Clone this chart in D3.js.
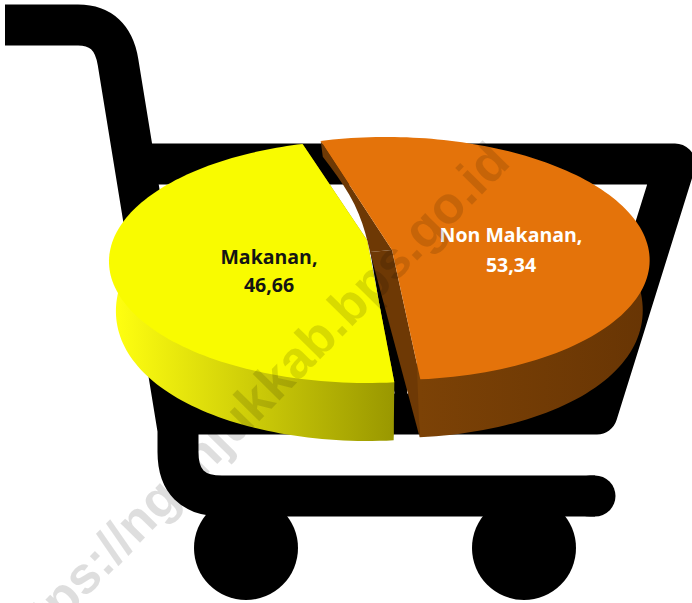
<!DOCTYPE html>
<html>
<head>
<meta charset="utf-8">
<script src="https://cdn.jsdelivr.net/npm/d3@7/dist/d3.min.js"></script>
<style>
html,body{margin:0;padding:0;background:#fff;overflow:hidden}
svg{display:block}
</style>
</head>
<body>
<svg id="c" width="692" height="603"></svg>
<script>
const categories = ["Makanan", "Non Makanan"];
const values = [46.66, 53.34];
const valueLabels = ["46,66", "53,34"];
const topColors = ["#f9fb00", "#e4730a"];
const wallStart = ["#ffff10", "#7c4206"];
const wallEnd = ["#999700", "#683504"];
const labelColors = ["#141414", "#ffffff"];
const watermarkText = "https://nganjukkab.bps.go.id";

const svg = d3.select("#c");
const W = 692, H = 603;
svg.append("rect").attr("width", W).attr("height", H).attr("fill", "#fff");

/* ---------- shopping cart ---------- */
const cart = svg.append("g").attr("fill", "none").attr("stroke", "#000").attr("stroke-width", 41);
cart.append("path").attr("stroke-linejoin", "round")
  .attr("d", "M5,25 L78,25 Q112,25 118,62 L178,430 L178,452 Q178,496 222,496 L595,496");
cart.append("path").attr("stroke-linejoin", "round")
  .attr("d", "M130,164 L675,164 L597,414 L165,414");
cart.append("line").attr("x1", 590).attr("x2", 595).attr("y1", 496).attr("y2", 496).attr("stroke-linecap", "round");
svg.selectAll("circle.wheel").data([246, 524]).join("circle")
  .attr("class", "wheel").attr("cx", d => d).attr("cy", 548).attr("r", 52).attr("fill", "#000");
/* dark wedge seen through the gap between the slices */
svg.append("path").attr("fill", "#000").attr("d", "M370,250 L395,396 L407,396 L407,373 L390,290Z");

/* ---------- 3D pie ---------- */
const rx = 256, ry = 118.7, persp = 0.152;
const apex = [[368, 243], [390, 240]];
const hubOffset = [[-1, -3], [2, 10]];
const shear = [0, -4];
const startAngle = 175 * Math.PI / 180;
const arcs = d3.pie().sort(null).startAngle(startAngle).endAngle(startAngle + 2 * Math.PI)(values);

function project(u, v, i, lower) {
  const c = apex[i];
  const s = 1 / (1 + persp * v);
  const r2 = u * u + v * v;
  let x = c[0] + rx * u * s + shear[i] * v, y = c[1] - ry * v * s;
  if (lower) {
    y += r2 * (36 - 22 * v + 10 * u * u) + 12 * (1 - r2);
    x += -20 * (1 - r2) - 7 * u * r2;
  }
  return [x, y];
}
const line = d3.line();
const rim = (a0, a1, n) => d3.range(n + 1).map(i => a0 + (a1 - a0) * i / n);

const defs = svg.append("defs");
arcs.forEach((a, i) => {
  const g = defs.append("linearGradient").attr("id", "wall" + i)
    .attr("gradientUnits", "userSpaceOnUse")
    .attr("x1", i ? 420 : 115).attr("x2", i ? 648 : 395).attr("y1", 0).attr("y2", 0);
  g.append("stop").attr("offset", 0).attr("stop-color", wallStart[i]);
  g.append("stop").attr("offset", 1).attr("stop-color", wallEnd[i]);
});

/* orange first, yellow over it */
[1, 0].forEach(i => {
  const a = arcs[i];
  const g = svg.append("g");
  const angles = rim(a.startAngle, a.endAngle, 120);
  const top = angles.map(t => project(Math.sin(t), Math.cos(t), i, false));
  const low = angles.map(t => project(Math.sin(t), Math.cos(t), i, true));
  const base = project(0, 0, i, false);
  const aT = [base[0] + hubOffset[i][0], base[1] + hubOffset[i][1]];
  const aL = project(0, 0, i, true);
  const cutFill = i ? "#6e3905" : "#999700";
  /* lower edge of the cut bows slightly outward */
  const bow = d3.range(1, 10).map(k => {
    const t = 1 - k / 10;
    return [aL[0] + (low[0][0] - aL[0]) * t + 8 * Math.sin(Math.PI * t),
            aL[1] + (low[0][1] - aL[1]) * t];
  });
  g.append("path").attr("fill", cutFill)
    .attr("d", line([aT, top[0], low[0]].concat(bow, [aL])) + "Z");
  g.append("path").attr("fill", cutFill)
    .attr("d", line([aT, top[top.length - 1], low[low.length - 1], aL]) + "Z");
  /* outer wall: front of the rim only; its upper edge runs hidden under the top face */
  const front = d3.range(angles.length).filter(k => Math.cos(angles[k]) < 0.1);
  const frontLow = front.map(k => low[k]);
  const inner = front.map(k => project(0.9 * Math.sin(angles[k]), 0.9 * Math.cos(angles[k]), i, false)).reverse();
  g.append("path").attr("fill", `url(#wall${i})`)
    .attr("d", line(frontLow.concat(inner)) + "Z");
  g.append("path").attr("fill", topColors[i])
    .attr("d", line([aT].concat(top)) + "Z");
});

/* ---------- labels ---------- */
const labelPos = [[269, 257, 285], [511, 235, 265]];
categories.forEach((cat, i) => {
  const t = svg.append("text").attr("text-anchor", "middle")
    .attr("font-family", "'Open Sans', sans-serif").attr("font-weight", 700)
    .attr("font-size", 19.5).attr("fill", labelColors[i]);
  t.append("tspan").attr("x", labelPos[i][0]).attr("y", labelPos[i][1] + 7).text(cat + ",");
  t.append("tspan").attr("x", labelPos[i][0]).attr("y", labelPos[i][2] + 7).text(valueLabels[i]);
});

/* ---------- watermark ---------- */
svg.append("text").attr("text-anchor", "end")
  .attr("transform", "translate(512,164) rotate(-45.5)")
  .attr("font-family", "'Liberation Sans', Arial, sans-serif").attr("font-weight", 700)
  .attr("font-size", 52).attr("fill", "#000").attr("fill-opacity", 0.13)
  .text(watermarkText);
</script>
</body>
</html>
